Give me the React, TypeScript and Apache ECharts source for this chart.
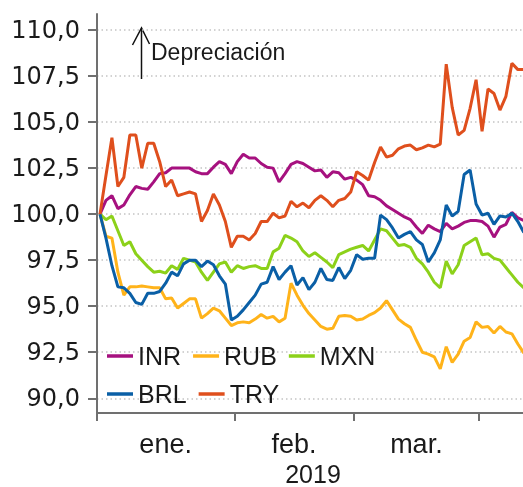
import React, { useEffect, useRef } from "react";
import * as echarts from "echarts";

// Index 100 = start of period; x = business-day index (0 = start of Jan 2019)
const INR = [
  100.0, 100.75, 101.0, 100.3, 100.5, 101.05, 101.5, 101.4, 101.35, 101.75,
  102.2, 102.25, 102.5, 102.5, 102.5, 102.5, 102.3, 102.2, 102.2, 102.55,
  102.85, 102.7, 102.2, 102.85, 103.25, 103.05, 103.05, 102.75, 102.55, 102.5,
  101.75, 102.2, 102.7, 102.85, 102.75, 102.55, 102.35, 102.4, 102.0, 102.3,
  102.25, 101.9, 102.0, 101.85, 101.6, 101.0, 100.95, 100.75, 100.45, 100.25,
  100.05, 99.85, 99.7, 99.3, 98.95, 99.4, 99.2, 99.05, 99.5, 99.2,
  99.35, 99.55, 99.65, 99.65, 99.6, 99.35, 98.75, 99.3, 99.45, 100.1,
  99.8, 99.65,
];
const RUB = [
  100.0, 98.8, 98.7, 96.85, 95.6, 96.05, 96.05, 96.1, 96.05, 96.0,
  96.0, 95.4, 95.45, 94.9, 95.15, 95.4, 95.4, 94.35, 94.6, 94.9,
  94.75, 94.35, 93.95, 94.1, 94.15, 94.1, 94.3, 94.55, 94.35, 94.45,
  94.15, 94.35, 96.25, 95.6, 95.05, 94.6, 94.25, 93.9, 93.75, 93.8,
  94.45, 94.5, 94.45, 94.25, 94.3, 94.5, 94.65, 94.9, 95.3, 94.8,
  94.3, 94.05, 93.85, 93.15, 92.5, 92.4, 92.25, 91.6, 92.8, 91.95,
  92.4, 93.1, 93.3, 94.15, 93.85, 93.9, 93.55, 93.9, 93.6, 93.5,
  92.95, 92.45,
];
const MXN = [
  100.0, 99.7, 99.9, 99.1, 98.3, 98.5, 97.85, 97.5, 97.15, 96.85,
  96.9, 96.8, 97.2, 97.0, 97.6, 97.5, 97.4, 96.85, 96.4, 96.85,
  97.3, 97.4, 96.85, 97.2, 97.05, 97.15, 97.2, 97.05, 97.05, 97.95,
  98.15, 98.85, 98.7, 98.5, 98.0, 97.7, 97.9, 97.65, 97.4, 97.1,
  97.8, 97.95, 98.1, 98.2, 98.3, 98.0, 98.6, 99.2, 99.1, 98.7,
  98.3, 98.35, 98.2, 97.6, 97.3, 96.85, 96.3, 96.0, 97.45, 96.75,
  97.25, 98.3, 98.5, 98.7, 97.8, 97.85, 97.6, 97.5, 97.1, 96.7,
  96.3, 96.0,
];
const BRL = [
  100.0, 98.7, 97.2, 96.05, 96.0, 95.7, 95.2, 95.1, 95.7, 95.7,
  95.8, 96.25, 96.85, 96.65, 97.3, 97.5, 97.5, 97.15, 97.45, 97.25,
  96.65, 96.2, 94.25, 94.45, 94.8, 95.2, 95.6, 96.2, 96.3, 97.15,
  96.45, 96.85, 97.2, 96.15, 96.55, 95.9, 96.3, 97.05, 96.45, 96.4,
  97.1, 96.5, 96.95, 97.8, 97.55, 97.6, 97.6, 99.95, 99.7, 99.25,
  98.7, 98.9, 99.05, 98.6, 98.35, 97.4, 97.9, 98.6, 100.5, 99.9,
  100.15, 102.15, 102.4, 100.55, 99.95, 100.05, 99.45, 99.9, 99.85, 100.05,
  99.6, 99.0,
];
const TRY = [
  100.0, 102.1, 104.15, 101.5, 102.0, 104.3, 104.3, 102.5, 103.85, 103.85,
  102.85, 101.5, 101.85, 101.0, 101.1, 101.2, 101.1, 99.6, 100.2, 101.1,
  100.5, 99.6, 98.2, 98.8, 98.8, 98.6, 98.95, 99.6, 99.6, 100.05,
  99.8, 99.9, 100.7, 100.4, 100.6, 100.35, 100.75, 101.0, 100.75, 100.4,
  100.75, 100.85, 101.2, 102.3, 102.1, 101.85, 102.8, 103.65, 103.1, 103.2,
  103.55, 103.7, 103.75, 103.5, 103.6, 103.75, 103.65, 103.8, 108.15, 105.8,
  104.3, 104.55, 105.75, 107.3, 104.5, 106.8, 106.55, 105.65, 106.4, 108.2,
  107.85, 107.85,
];

const seriesNames = ["INR", "RUB", "MXN", "BRL", "TRY"];
const seriesValues = [INR, RUB, MXN, BRL, TRY];
const seriesColors = ["#a6117f", "#ffb31a", "#8cd11a", "#0a5fa6", "#df4f1d"];

const monthBoundaries = [-0.5, 22.5, 42.5, 63.5];
const monthLabelPositions = [11, 32.5, 53];
const monthLabels = ["ene.", "feb.", "mar."];
const yearLabel = "2019";
const yTicks = [90, 92.5, 95, 97.5, 100, 102.5, 105, 107.5, 110];
const annotationText = "Depreciación";

export default function App() {
  const ref = useRef<HTMLDivElement>(null);
  useEffect(() => {
    if (!ref.current) return;
    const chart = echarts.init(ref.current, undefined, { renderer: "svg" });
    const axisColor = "#707070";
    const sansFont = "Liberation Sans, Arial, sans-serif";
    const legendCommon = {
      left: 107,
      orient: "horizontal",
      padding: 0,
      icon: "rect",
      itemWidth: 26,
      itemHeight: 3.5,
      itemGap: 12,
      textStyle: { fontFamily: sansFont, fontSize: 25, color: "#1a1a1a" },
    };
    chart.setOption({
      animation: false,
      grid: {
        left: 97,
        right: 0,
        top: 14,
        bottom: 74,
        containLabel: false,
        outerBoundsMode: "none",
      },
      xAxis: {
        type: "value",
        min: -0.5,
        max: 70.86,
        name: yearLabel,
        nameLocation: "middle",
        nameGap: 47,
        nameTextStyle: {
          fontFamily: sansFont,
          fontSize: 25,
          color: "#1a1a1a",
          padding: [0, 0, 0, 6],
        },
        axisLine: { show: true, onZero: false, lineStyle: { color: axisColor, width: 2 } },
        axisTick: {
          show: true,
          customValues: monthBoundaries,
          length: 8,
          lineStyle: { color: axisColor, width: 2 },
        },
        axisLabel: {
          customValues: monthLabelPositions,
          formatter: (v: number) => {
            const k = monthLabelPositions.indexOf(v);
            return k >= 0 ? monthLabels[k] : "";
          },
          margin: 17,
          fontFamily: sansFont,
          fontSize: 27,
          color: "#1a1a1a",
        },
        splitLine: { show: false },
      },
      yAxis: {
        type: "value",
        min: 89.2,
        max: 110.87,
        axisLine: { show: true, onZero: false, lineStyle: { color: axisColor, width: 2 } },
        axisTick: {
          show: true,
          customValues: yTicks,
          length: 9,
          lineStyle: { color: axisColor, width: 2 },
        },
        axisLabel: {
          customValues: yTicks,
          formatter: (v: number) => v.toFixed(1).replace(".", ","),
          margin: 17,
          fontFamily: "DejaVu Sans, sans-serif",
          fontSize: 24,
          color: "#1a1a1a",
        },
        splitLine: {
          show: true,
          lineStyle: { color: "#c4c4c4", width: 1.5, type: [1.5, 3] },
        },
      },
      legend: [
        { ...legendCommon, data: seriesNames.slice(0, 3), top: 343.5 },
        { ...legendCommon, data: seriesNames.slice(3), top: 381.5 },
      ],
      graphic: [
        {
          type: "polyline",
          shape: { points: [[141.5, 79], [141.5, 29]] },
          style: { stroke: "#111", lineWidth: 1.5, fill: null },
        },
        {
          type: "polyline",
          shape: { points: [[132.5, 45], [141.5, 28], [149.5, 44]] },
          style: { stroke: "#111", lineWidth: 1.5, fill: null },
        },
        {
          type: "text",
          x: 151,
          y: 52,
          style: {
            text: annotationText,
            font: "23px Liberation Sans, Arial, sans-serif",
            fill: "#1a1a1a",
            verticalAlign: "middle",
            align: "left",
          },
        },
      ],
      series: seriesNames.map((name, k) => ({
        name,
        type: "line",
        data: seriesValues[k].map((v, i) => [i, v]),
        showSymbol: false,
        symbol: "none",
        clip: true,
        color: seriesColors[k],
        lineStyle: { color: seriesColors[k], width: 3 },
      })),
    });
    return () => chart.dispose();
  }, []);
  return (
    <div
      ref={ref}
      style={{ position: "fixed", left: 0, top: 0, width: 523, height: 487 }}
    />
  );
}
